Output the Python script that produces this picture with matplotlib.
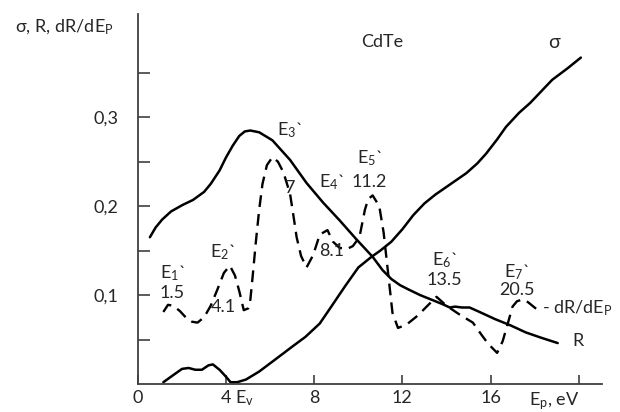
import numpy as np
import matplotlib
matplotlib.use('Agg')
import matplotlib.pyplot as plt

plt.rcParams['font.family'] = ['Lato', 'Open Sans', 'DejaVu Sans']
plt.rcParams['mathtext.fontset'] = 'custom'
plt.rcParams['mathtext.rm'] = 'Lato'
plt.rcParams['mathtext.it'] = 'Lato'

txt = '#262626'

# sigma curve
sig_x = [1.15, 1.6, 2.0, 2.3, 2.6, 2.9, 3.2, 3.4, 3.7, 4.0, 4.2, 4.5, 4.9, 5.5, 6.2,
         7.0, 7.6, 8.25, 8.8, 9.4, 10.0, 10.6, 11.0, 11.5, 12.0, 12.5, 13.0, 13.5,
         14.2, 14.9, 15.4, 15.8, 16.3, 16.7, 17.3, 17.8, 18.3, 18.8, 19.5, 20.1]
sig_y = [0.002, 0.010, 0.017, 0.018, 0.016, 0.016, 0.021, 0.022, 0.016, 0.008, 0.002,
         0.002, 0.005, 0.014, 0.027, 0.042, 0.053, 0.068, 0.088, 0.110, 0.131, 0.143,
         0.150, 0.160, 0.174, 0.190, 0.203, 0.213, 0.225, 0.237, 0.248, 0.259, 0.275,
         0.289, 0.305, 0.316, 0.329, 0.342, 0.355, 0.367]

# R curve
r_x = [0.54, 0.8, 1.1, 1.5, 2.0, 2.5, 3.0, 3.3, 3.7, 4.0, 4.3, 4.6, 4.85, 5.1, 5.5,
       6.1, 6.9, 7.65, 8.4, 9.15, 9.9, 10.65, 11.1, 11.5, 11.9, 12.3, 12.8, 13.4,
       13.8, 14.15, 14.4, 14.7, 15.05, 15.5, 16.2, 16.9, 17.6, 18.3, 19.05]
r_y = [0.165, 0.176, 0.185, 0.194, 0.201, 0.207, 0.216, 0.225, 0.240, 0.255, 0.268,
       0.279, 0.284, 0.285, 0.283, 0.274, 0.252, 0.226, 0.204, 0.184, 0.163, 0.143,
       0.128, 0.118, 0.111, 0.106, 0.100, 0.094, 0.090, 0.086, 0.087, 0.086, 0.086,
       0.081, 0.073, 0.066, 0.058, 0.052, 0.046]

# dR/dEp curve
d_x = [1.15, 1.36, 1.6, 1.9, 2.2, 2.45, 2.7, 3.0, 3.3, 3.6, 3.9, 4.17, 4.4, 4.6,
       4.8, 5.0, 5.1, 5.2, 5.35, 5.5, 5.65, 5.85, 6.1, 6.35, 6.6, 6.9, 7.05, 7.2,
       7.4, 7.65, 7.95, 8.25, 8.6, 8.85, 9.15, 9.5, 9.75, 10.05, 10.3, 10.45, 10.65,
       10.95, 11.15, 11.35, 11.55, 11.8, 12.2, 12.7, 13.1, 13.55, 14.0, 14.6, 15.2,
       15.6, 15.9, 16.3, 16.55, 16.75, 17.0, 17.2, 17.45, 17.7, 17.9, 18.3]
d_y = [0.081, 0.089, 0.088, 0.082, 0.074, 0.070, 0.069, 0.075, 0.088, 0.106, 0.125,
       0.133, 0.122, 0.104, 0.083, 0.085, 0.095, 0.120, 0.160, 0.196, 0.225, 0.246,
       0.255, 0.250, 0.238, 0.214, 0.190, 0.165, 0.144, 0.131, 0.145, 0.168, 0.173,
       0.160, 0.153, 0.152, 0.155, 0.165, 0.196, 0.208, 0.212, 0.200, 0.170, 0.125,
       0.080, 0.063, 0.067, 0.077, 0.087, 0.098, 0.088, 0.078, 0.069, 0.055, 0.045,
       0.035, 0.048, 0.065, 0.087, 0.093, 0.095, 0.092, 0.088, 0.080]

# peak annotations: (index, value, x, y_name, y_value)
peaks = [
    ('1', '1.5', 1.55, 0.125, 0.102),
    ('2', '4.1', 3.85, 0.148, 0.087),
    ('3', '7', 6.9, 0.285, 0.220),
    ('4', '8.1', 8.8, 0.227, 0.150),
    ('5', '11.2', 10.5, 0.254, 0.227),
    ('6', '13.5', 13.9, 0.139, 0.117),
    ('7', '20.5', 17.2, 0.126, 0.106),
]

fig = plt.figure(figsize=(6.2, 4.12), dpi=100)
ax = fig.add_axes([0.2226, 0.068, 0.748, 0.898])

ax.plot(sig_x, sig_y, color='black', lw=1.8, solid_capstyle='round')
ax.plot(r_x, r_y, color='black', lw=1.8, solid_capstyle='round')
ax.plot(d_x, d_y, color='black', lw=1.7, linestyle=(0, (5, 3)))

ax.set_xlim(0, 21.05)
ax.set_ylim(0, 0.416)
for s in ['top', 'right']:
    ax.spines[s].set_visible(False)
for s in ['left', 'bottom']:
    ax.spines[s].set_linewidth(1.3)
    ax.spines[s].set_color('#404040')

ax.set_xticks([0, 4, 8, 12, 16, 20])
ax.set_xticklabels(['0', '4', '8', '12', '16', ''])
ax.set_yticks([0.1, 0.2, 0.3])
ax.set_yticklabels(['0,1', '0,2', '0,3'])
ax.set_yticks([0.05, 0.15, 0.25, 0.35], minor=True)
ax.tick_params(axis='x', direction='in', length=6.5, width=1.2, color='#404040',
               labelsize=13, labelcolor=txt, pad=4)
ax.tick_params(axis='y', which='both', direction='in', length=8.5, width=1.2,
               color='#404040', labelsize=13, labelcolor=txt, pad=14)

for n, v, x, yn, yv in peaks:
    ax.text(x, yn, 'E$_{%s}$`' % n, ha='center', va='center', fontsize=13, color=txt)
    ax.text(x, yv, v, ha='center', va='center', fontsize=13, color=txt)

ax.text(11.1, 0.384, 'CdTe', ha='center', va='center', fontsize=13, color=txt)
ax.text(18.9, 0.384, 'σ', ha='center', va='center', fontsize=14, color=txt)
ax.text(18.35, 0.085, '- dR/dE$_\\mathrm{P}$', ha='left', va='center', fontsize=13, color=txt)
ax.text(19.95, 0.048, 'R', ha='center', va='center', fontsize=13, color=txt)
ax.text(4.85, -0.016, 'E$_\\mathrm{v}$', ha='center', va='center', fontsize=13,
        color=txt, clip_on=False)
ax.text(18.9, -0.019, 'E$_\\mathrm{p}$, eV', ha='center', va='center', fontsize=13,
        color=txt, clip_on=False)

fig.text(15 / 620, 1 - 27 / 412, 'σ, R, dR/dE$_\\mathrm{P}$', ha='left', va='center',
         fontsize=13, color=txt)

fig.savefig('out.png', dpi=100)
